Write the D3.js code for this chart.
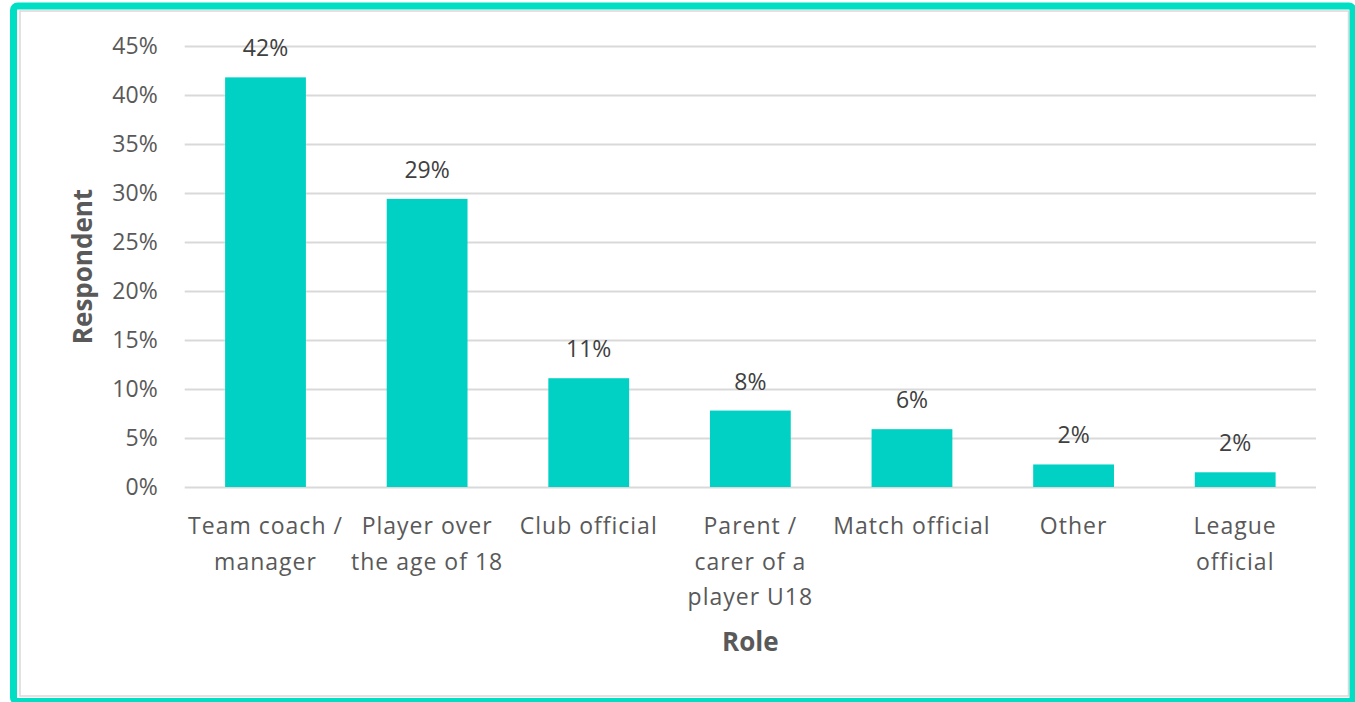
<!DOCTYPE html>
<html>
<head>
<meta charset="utf-8">
<script src="https://cdn.jsdelivr.net/npm/d3@7"></script>
<style>
  html, body { margin: 0; padding: 0; background: #fff; overflow: hidden; }
  svg { display: block; font-family: "Open Sans", sans-serif; }
</style>
</head>
<body>
<div id="chart"></div>
<script>
// --- Données ---
const categories = ["Team coach / manager", "Player over the age of 18", "Club official",
    "Parent / carer of a player U18", "Match official", "Other", "League official"];
const categoryLines = [
    ["Team coach /", "manager"],
    ["Player over", "the age of 18"],
    ["Club official"],
    ["Parent /", "carer of a", "player U18"],
    ["Match official"],
    ["Other"],
    ["League", "official"]
];
const values = [0.418, 0.294, 0.111, 0.078, 0.059, 0.023, 0.015];
const yTickValues = [0, 0.05, 0.10, 0.15, 0.20, 0.25, 0.30, 0.35, 0.40, 0.45];
const xTitle = "Role";
const yTitle = "Respondent";

const W = 1355, H = 702;
const plot = { left: 184.7, right: 1316, top: 46, bottom: 487 };

const svg = d3.select('#chart').append('svg')
    .attr('width', W)
    .attr('height', H);

// Cadre
svg.append('rect')
    .attr('x', 20).attr('y', 11)
    .attr('width', 1328.5).attr('height', 685)
    .attr('fill', 'none')
    .attr('stroke', '#d9d9d9')
    .attr('stroke-width', 1.5);

svg.append('rect')
    .attr('x', 13.5).attr('y', 6)
    .attr('width', 1339.5).attr('height', 695.5)
    .attr('rx', 4).attr('ry', 4)
    .attr('fill', 'none')
    .attr('stroke', '#00dfc3')
    .attr('stroke-width', 7);

// Échelles
const x = d3.scaleBand()
    .domain(categories)
    .range([plot.left, plot.right])
    .paddingInner(0.5)
    .paddingOuter(0.25);

const y = d3.scaleLinear()
    .domain([0, 0.45])
    .range([plot.bottom, plot.top]);

// Axe Y + grille
const yAxis = svg.append('g')
    .attr('transform', `translate(${plot.left},0)`)
    .call(d3.axisLeft(y)
        .tickValues(yTickValues)
        .tickFormat(d3.format('.0%'))
        .tickSize(-(plot.right - plot.left))
        .tickPadding(27));

yAxis.select('.domain').remove();
yAxis.selectAll('line')
    .attr('stroke', '#d9d9d9')
    .attr('stroke-width', 2);
yAxis.selectAll('text')
    .attr('fill', '#595959')
    .style('font-size', '23px')
    .style('font-family', '"Open Sans", sans-serif');

// Barres
svg.append('g')
    .selectAll('rect')
    .data(values)
    .join('rect')
    .attr('x', (d, i) => x(categories[i]))
    .attr('y', d => y(d))
    .attr('width', x.bandwidth())
    .attr('height', d => y(0) - y(d))
    .attr('fill', '#00d1c4');

// Étiquettes de valeurs
svg.append('g')
    .selectAll('text')
    .data(values)
    .join('text')
    .attr('x', (d, i) => x(categories[i]) + x.bandwidth() / 2)
    .attr('y', d => y(d) - 21)
    .attr('text-anchor', 'middle')
    .attr('fill', '#404040')
    .style('font-size', '23px')
    .text(d => d3.format('.0%')(d));

// Étiquettes de catégories
const catLabels = svg.append('g')
    .selectAll('text')
    .data(categories)
    .join('text')
    .attr('x', d => x(d) + x.bandwidth() / 2)
    .attr('y', plot.bottom + 47)
    .attr('text-anchor', 'middle')
    .attr('fill', '#595959')
    .style('font-size', '23px')
    .style('letter-spacing', '1px');

catLabels.each(function (d, i) {
    const t = d3.select(this);
    categoryLines[i].forEach((line, j) => {
        t.append('tspan')
            .attr('x', x(d) + x.bandwidth() / 2)
            .attr('dy', j === 0 ? 0 : 35.5)
            .text(line);
    });
});

// Titres des axes
svg.append('text')
    .attr('x', (plot.left + plot.right) / 2)
    .attr('y', 651)
    .attr('text-anchor', 'middle')
    .attr('fill', '#595959')
    .style('font-size', '26px')
    .style('font-weight', '700')
    .text(xTitle);

svg.append('text')
    .attr('transform', `translate(92,${(plot.top + plot.bottom) / 2}) rotate(-90)`)
    .attr('text-anchor', 'middle')
    .attr('fill', '#595959')
    .style('font-size', '26px')
    .style('font-weight', '700')
    .text(yTitle);
</script>
</body>
</html>
